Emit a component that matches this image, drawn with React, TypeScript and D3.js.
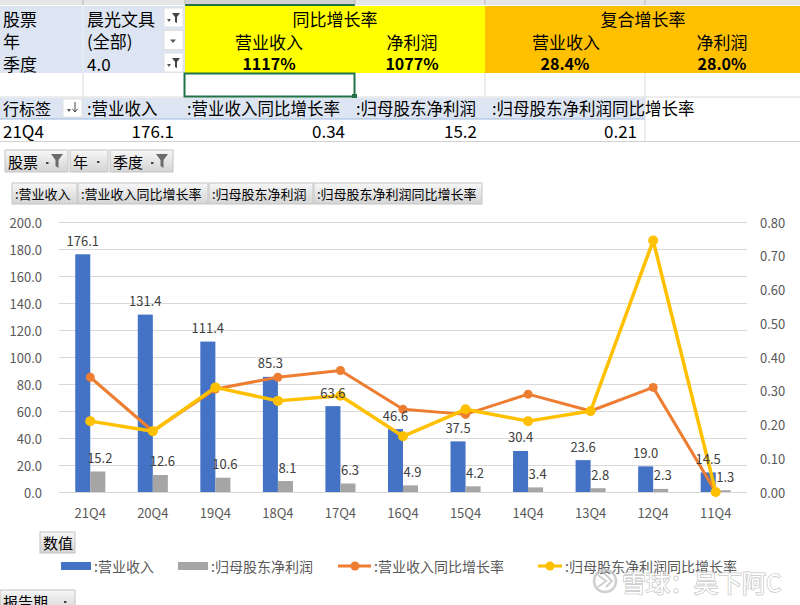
import React, { useRef, useEffect } from 'react';
import * as d3 from 'd3';

const quarters = ['21Q4', '20Q4', '19Q4', '18Q4', '17Q4', '16Q4', '15Q4', '14Q4', '13Q4', '12Q4', '11Q4'];
const revenue = [176.1, 131.4, 111.4, 85.3, 63.6, 46.6, 37.5, 30.4, 23.6, 19.0, 14.5];
const netProfit = [15.2, 12.6, 10.6, 8.1, 6.3, 4.9, 4.2, 3.4, 2.8, 2.3, 1.3];
const revenueGrowth = [0.34, 0.18, 0.305, 0.34, 0.36, 0.245, 0.23, 0.29, 0.24, 0.31, 0];
const profitGrowth = [0.21, 0.18, 0.31, 0.27, 0.285, 0.165, 0.245, 0.21, 0.24, 0.745, 0];
const leftTicks = [0, 20, 40, 60, 80, 100, 120, 140, 160, 180, 200];
const rightTicks = [0, 0.1, 0.2, 0.3, 0.4, 0.5, 0.6, 0.7, 0.8];

const seriesNames = [':营业收入', ':归母股东净利润', ':营业收入同比增长率', ':归母股东净利润同比增长率'];
const summaryValues = ['1117%', '1077%', '28.4%', '28.0%'];

const FONT = '"Noto Sans CJK SC", "Noto Sans", sans-serif';
const BLUE = '#4472c4';
const GRAY = '#a5a5a5';
const ORANGE = '#ed7d31';
const YELLOW = '#ffc000';

const App: React.FC = () => {
    const ref = useRef<SVGSVGElement | null>(null);

    useEffect(() => {
        const svg = d3.select(ref.current);
        svg.selectAll('*').remove();

        const defs = svg.append('defs');
        const grad = defs.append('linearGradient').attr('id', 'btn').attr('x1', 0).attr('y1', 0).attr('x2', 0).attr('y2', 1);
        grad.append('stop').attr('offset', '0%').attr('stop-color', '#f7f7f7');
        grad.append('stop').attr('offset', '100%').attr('stop-color', '#d4d4d4');

        svg.append('rect').attr('width', 800).attr('height', 605).attr('fill', '#fff');

        const text = (g: any, x: number, y: number, s: string, size: number, anchor = 'start', color = '#000', weight = 'normal') =>
            g.append('text')
                .attr('x', x).attr('y', y)
                .attr('text-anchor', anchor)
                .attr('dominant-baseline', 'central')
                .style('font-family', FONT)
                .style('font-size', `${size}px`)
                .style('font-weight', weight)
                .attr('fill', color)
                .text(s);

        // ---- spreadsheet part ----
        const sheet = svg.append('g');
        sheet.append('rect').attr('x', 0).attr('y', 0).attr('width', 800).attr('height', 5).attr('fill', '#e6e6e6');
        sheet.append('rect').attr('x', 185).attr('y', 0).attr('width', 170).attr('height', 5).attr('fill', '#d2d2d2');
        sheet.append('rect').attr('x', 185).attr('y', 4).attr('width', 170).attr('height', 2).attr('fill', '#217346');
        [83, 185, 355, 485, 645].forEach((x) =>
            sheet.append('line').attr('x1', x).attr('x2', x).attr('y1', 0).attr('y2', 5).attr('stroke', '#b8b8b8'));

        // filter block
        sheet.append('rect').attr('x', 0).attr('y', 6).attr('width', 185).attr('height', 67).attr('fill', '#dde5f2');
        sheet.append('line').attr('x1', 83).attr('x2', 83).attr('y1', 6).attr('y2', 73).attr('stroke', '#eef2f9');
        sheet.append('rect').attr('x', 185).attr('y', 6).attr('width', 300).attr('height', 67).attr('fill', '#ffff00');
        sheet.append('rect').attr('x', 485).attr('y', 6).attr('width', 315).attr('height', 67).attr('fill', YELLOW);

        const filterRows = [['股票', '晨光文具', true], ['年', '(全部)', false], ['季度', '4.0', true]] as [string, string, boolean][];
        filterRows.forEach(([k, v, filtered], i) => {
            const cy = 18 + i * 22.5;
            text(sheet, 3, cy, k, 17);
            text(sheet, 87, cy, v, 17);
            sheet.append('rect').attr('x', 164).attr('y', cy - 10).attr('width', 19).attr('height', 19).attr('fill', '#fff').attr('stroke', '#e0e0e0');
            if (filtered) {
                sheet.append('path').attr('d', `M${167},${cy + 1} l4,0 l-2,3 z`).attr('fill', '#555');
                sheet.append('path').attr('d', `M${172},${cy - 5} l8,0 l-3,4 l0,6 l-2,-1 l0,-5 z`).attr('fill', '#444');
            } else {
                sheet.append('path').attr('d', `M${170},${cy - 1} l6,0 l-3,3.5 z`).attr('fill', '#555');
            }
        });
        text(sheet, 335, 18, '同比增长率', 17, 'middle');
        text(sheet, 269, 41, '营业收入', 17, 'middle');
        text(sheet, 412, 41, '净利润', 17, 'middle');
        text(sheet, 269, 63, summaryValues[0], 16, 'middle', '#000', 'bold');
        text(sheet, 412, 63, summaryValues[1], 16, 'middle', '#000', 'bold');
        text(sheet, 643, 18, '复合增长率', 17, 'middle');
        text(sheet, 566, 41, '营业收入', 17, 'middle');
        text(sheet, 722, 41, '净利润', 17, 'middle');
        text(sheet, 565, 63, summaryValues[2], 16, 'middle', '#000', 'bold');
        text(sheet, 722, 63, summaryValues[3], 16, 'middle', '#000', 'bold');

        // empty row with selected cell
        [83, 485, 645].forEach((x) =>
            sheet.append('line').attr('x1', x).attr('x2', x).attr('y1', 73).attr('y2', 97).attr('stroke', '#dadada'));
        sheet.append('line').attr('x1', 0).attr('x2', 800).attr('y1', 97).attr('y2', 97).attr('stroke', '#dadada');
        sheet.append('rect').attr('x', 184.5).attr('y', 73.5).attr('width', 170).attr('height', 23).attr('fill', 'none').attr('stroke', '#217346').attr('stroke-width', 2);
        sheet.append('rect').attr('x', 352).attr('y', 94).attr('width', 5).attr('height', 5).attr('fill', '#217346');

        // pivot header row
        sheet.append('rect').attr('x', 0).attr('y', 98).attr('width', 645).attr('height', 21).attr('fill', '#dde5f2');
        sheet.append('line').attr('x1', 0).attr('x2', 645).attr('y1', 119).attr('y2', 119).attr('stroke', '#9bb7e0');
        sheet.append('line').attr('x1', 645).attr('x2', 645).attr('y1', 97).attr('y2', 141).attr('stroke', '#dadada');
        text(sheet, 3, 108, '行标签', 16);
        sheet.append('rect').attr('x', 63).attr('y', 99).attr('width', 19).attr('height', 18).attr('fill', '#fff').attr('stroke', '#e0e0e0');
        sheet.append('path').attr('d', 'M67,109 l4,0 l-2,3 z').attr('fill', '#555');
        sheet.append('path').attr('d', 'M75,102 l0,10 M72.5,109 l2.5,3 l2.5,-3').attr('stroke', '#444').attr('fill', 'none');
        text(sheet, 87, 108, seriesNames[0], 16.5);
        text(sheet, 187, 108, seriesNames[2], 16.5);
        text(sheet, 356, 108, seriesNames[1], 16.5);
        text(sheet, 492, 108, seriesNames[3], 16.5);

        text(sheet, 3, 130, quarters[0], 17);
        text(sheet, 174, 130, revenue[0].toFixed(1), 17, 'end');
        text(sheet, 345, 130, revenueGrowth[0].toFixed(2), 17, 'end');
        text(sheet, 477, 130, netProfit[0].toFixed(1), 17, 'end');
        text(sheet, 637, 130, profitGrowth[0].toFixed(2), 17, 'end');
        sheet.append('line').attr('x1', 0).attr('x2', 800).attr('y1', 141.5).attr('y2', 141.5).attr('stroke', '#d0d0d0');

        // ---- pivot chart field buttons ----
        const button = (x: number, y: number, w: number, h: number, label: string, size: number, icon: 'filter' | 'drop' | 'none') => {
            const g = svg.append('g');
            g.append('rect').attr('x', x).attr('y', y).attr('width', w).attr('height', h).attr('fill', 'url(#btn)').attr('stroke', '#c4c4c4');
            text(g, x + 3, y + h / 2, label, size);
            if (icon === 'filter') {
                g.append('rect').attr('x', x + w - 22).attr('y', y + h / 2 + 1).attr('width', 2.5).attr('height', 2).attr('fill', '#444');
                g.append('path').attr('d', `M${x + w - 17},${y + 4} l12,0 l-4.5,6 l0,8 l-3,-2 l0,-6 z`).attr('fill', '#6b6b6b');
            } else if (icon === 'drop') {
                g.append('rect').attr('x', x + w - 11).attr('y', y + h / 2).attr('width', 2.5).attr('height', 2).attr('fill', '#444');
            }
        };
        button(5, 150, 63, 22, '股票', 15, 'filter');
        button(70, 150, 38, 22, '年', 15, 'drop');
        button(110, 150, 63, 22, '季度', 15, 'filter');
        const fieldX = [12, 78, 209, 314, 483];
        const fieldLabels = [seriesNames[0], seriesNames[2], seriesNames[1], seriesNames[3]];
        fieldLabels.forEach((s, i) => button(fieldX[i], 183, fieldX[i + 1] - fieldX[i] - 1, 21, s, 13, 'none'));

        // ---- chart ----
        const plotLeft = 59, plotRight = 747, plotTop = 222, plotBottom = 492;
        const x0 = d3.scaleBand<string>().domain(quarters).range([plotLeft, plotRight]).padding(0);
        const x1 = d3.scaleBand<string>().domain(['rev', 'np']).range([0, x0.bandwidth()]).paddingInner(0).paddingOuter(1.08);
        const yL = d3.scaleLinear().domain([0, 200]).range([plotBottom, plotTop]);
        const yR = d3.scaleLinear().domain([0, 0.8]).range([plotBottom, plotTop]);

        const chart = svg.append('g');
        chart.selectAll('line.grid').data(leftTicks).enter().append('line')
            .attr('x1', plotLeft).attr('x2', plotRight)
            .attr('y1', (d) => Math.round(yL(d)) + 0.5).attr('y2', (d) => Math.round(yL(d)) + 0.5)
            .attr('stroke', '#d9d9d9').attr('stroke-width', 1);

        chart.selectAll('text.yl').data(leftTicks).enter().append('text')
            .attr('x', 42).attr('y', (d) => yL(d))
            .attr('text-anchor', 'end').attr('dominant-baseline', 'central')
            .style('font-family', FONT).style('font-size', '13px').attr('fill', '#595959')
            .text((d) => d.toFixed(1));
        chart.selectAll('text.yr').data(rightTicks).enter().append('text')
            .attr('x', 760).attr('y', (d) => yR(d))
            .attr('dominant-baseline', 'central')
            .style('font-family', FONT).style('font-size', '13px').attr('fill', '#595959')
            .text((d) => d.toFixed(2));
        chart.selectAll('text.xl').data(quarters).enter().append('text')
            .attr('x', (d) => (x0(d) as number) + x0.bandwidth() / 2).attr('y', 512)
            .attr('text-anchor', 'middle').attr('dominant-baseline', 'central')
            .style('font-family', FONT).style('font-size', '13px').attr('fill', '#595959')
            .text((d) => d);

        const barSeries = [
            { key: 'rev', values: revenue, color: BLUE },
            { key: 'np', values: netProfit, color: GRAY },
        ];
        barSeries.forEach((s) => {
            chart.selectAll(`rect.${s.key}`).data(s.values).enter().append('rect')
                .attr('x', (d, i) => (x0(quarters[i]) as number) + (x1(s.key) as number))
                .attr('y', (d) => yL(d))
                .attr('width', x1.bandwidth())
                .attr('height', (d) => plotBottom - yL(d))
                .attr('fill', s.color);
        });

        const lineSeries = [
            { values: revenueGrowth, color: ORANGE, w: 3, r: 4.5 },
            { values: profitGrowth, color: YELLOW, w: 3.5, r: 5 },
        ];
        lineSeries.forEach((s) => {
            const cx = (i: number) => (x0(quarters[i]) as number) + x0.bandwidth() / 2;
            const line = d3.line<number>().x((d, i) => cx(i)).y((d) => yR(d));
            chart.append('path').attr('d', line(s.values)).attr('fill', 'none')
                .attr('stroke', s.color).attr('stroke-width', s.w).attr('stroke-linejoin', 'round');
            chart.selectAll(null).data(s.values).enter().append('circle')
                .attr('cx', (d, i) => cx(i)).attr('cy', (d) => yR(d)).attr('r', s.r)
                .attr('fill', s.color);
        });

        // data labels sit on top of everything
        barSeries.forEach((s) => {
            chart.selectAll(`text.lab${s.key}`).data(s.values).enter().append('text')
                .attr('x', (d, i) => (x0(quarters[i]) as number) + (x1(s.key) as number) + x1.bandwidth() / 2 + (s.key === 'np' ? 2 : 0))
                .attr('y', (d) => yL(d) - 14)
                .attr('text-anchor', 'middle').attr('dominant-baseline', 'central')
                .style('font-family', FONT).style('font-size', '13px').attr('fill', '#404040')
                .text((d) => d.toFixed(1));
        });

        // ---- bottom buttons & legend ----
        button(40, 532, 35, 21, '数值', 15, 'none');
        button(0, 590, 75, 22, '报告期', 15, 'drop');

        const legend = svg.append('g');
        const ly = 566;
        legend.append('rect').attr('x', 61).attr('y', ly - 4).attr('width', 30).attr('height', 8).attr('fill', BLUE);
        text(legend, 94, ly, seriesNames[0], 14, 'start', '#595959');
        legend.append('rect').attr('x', 178).attr('y', ly - 4).attr('width', 30).attr('height', 8).attr('fill', GRAY);
        text(legend, 211, ly, seriesNames[1], 14, 'start', '#595959');
        legend.append('line').attr('x1', 338).attr('x2', 371).attr('y1', ly).attr('y2', ly).attr('stroke', ORANGE).attr('stroke-width', 3);
        legend.append('circle').attr('cx', 355).attr('cy', ly).attr('r', 4.5).attr('fill', ORANGE);
        text(legend, 374, ly, seriesNames[2], 14, 'start', '#595959');
        legend.append('line').attr('x1', 538).attr('x2', 562).attr('y1', ly).attr('y2', ly).attr('stroke', YELLOW).attr('stroke-width', 3);
        legend.append('circle').attr('cx', 550).attr('cy', ly).attr('r', 4.5).attr('fill', YELLOW);
        text(legend, 565, ly, seriesNames[3], 14, 'start', '#595959');

        // ---- watermark ----
        const wm = svg.append('g').attr('opacity', 0.8);
        wm.append('circle').attr('cx', 605).attr('cy', 581).attr('r', 11).attr('fill', 'none').attr('stroke', '#c4c4c4').attr('stroke-width', 2.5);
        wm.append('path').attr('d', 'M598,575 l8,6 l-8,6 M604,573 l8,8 l-6,6').attr('fill', 'none').attr('stroke', '#c4c4c4').attr('stroke-width', 2);
        wm.append('text').attr('x', 622).attr('y', 581)
            .attr('dominant-baseline', 'central')
            .style('font-family', FONT).style('font-size', '24px')
            .attr('fill', '#fff').attr('stroke', '#bdbdbd').attr('stroke-width', 1.6)
            .attr('paint-order', 'stroke')
            .text('雪球：吴下阿C');
    }, []);

    return (
        <svg ref={ref} width={800} height={605} style={{ position: 'absolute', left: 0, top: 0, display: 'block' }} />
    );
};

export default App;
